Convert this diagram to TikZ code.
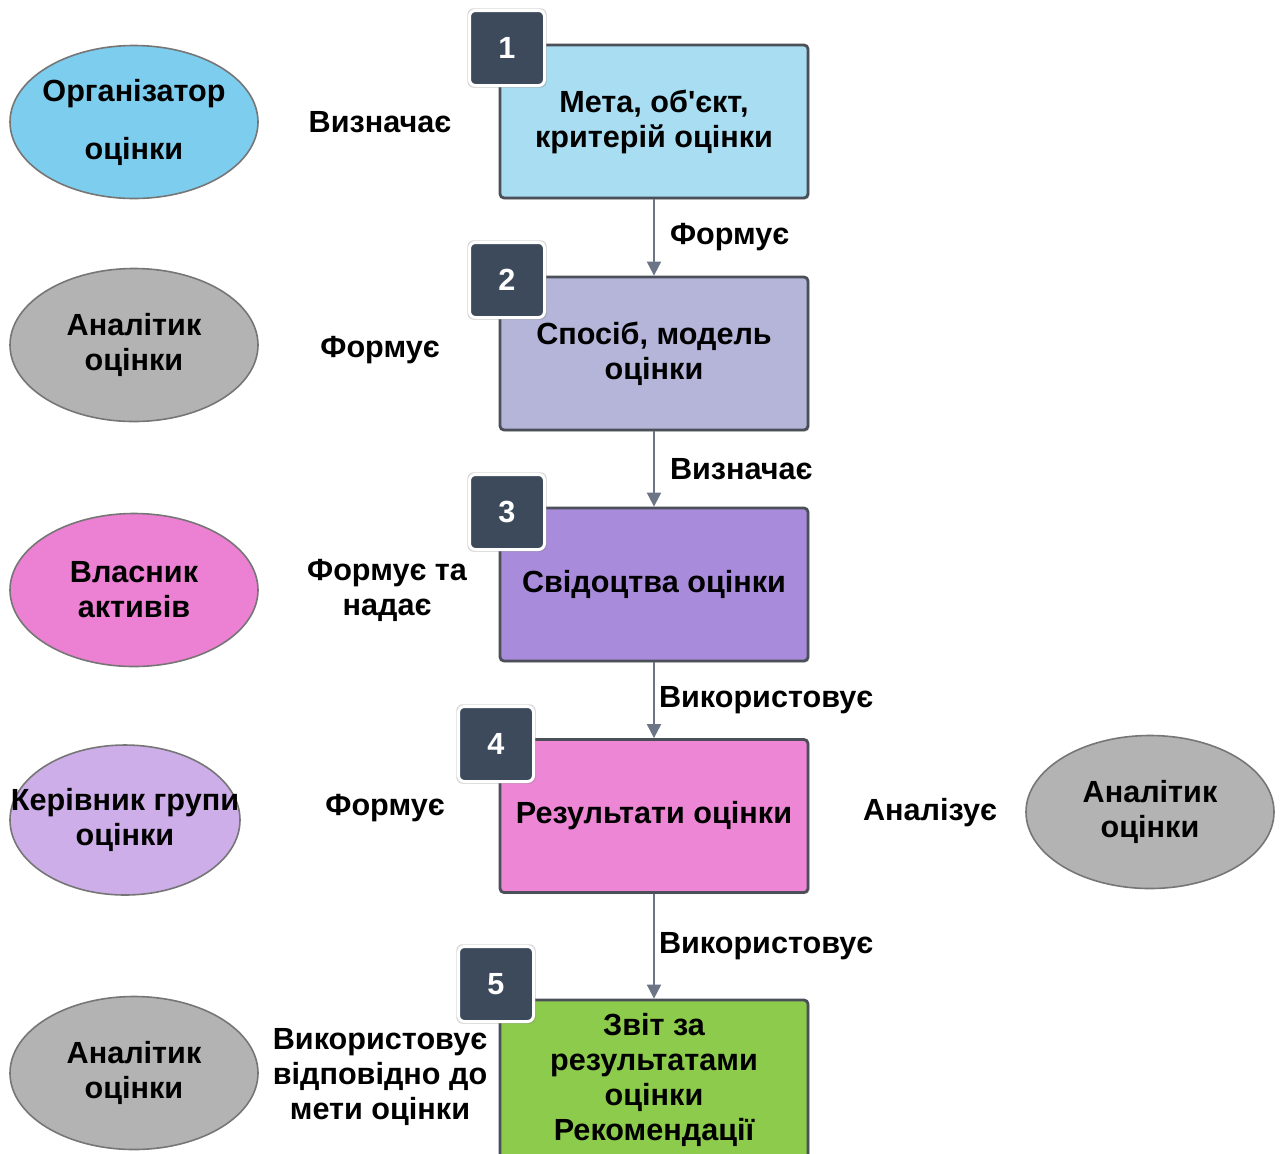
\documentclass[tikz,border=0pt]{standalone}
\usepackage{fontspec}
\setmainfont{Liberation Sans}[Ligatures=TeXOff]
\usetikzlibrary{shapes.geometric,arrows.meta,shadows}
\definecolor{goal}{HTML}{A8DDF2}
\definecolor{method}{HTML}{B4B5D8}
\definecolor{evidence}{HTML}{A98BDC}
\definecolor{result}{HTML}{EE86D6}
\definecolor{report}{HTML}{8CCB4C}
\definecolor{organiser}{HTML}{7DCDEE}
\definecolor{analyst}{HTML}{B3B3B3}
\definecolor{owner}{HTML}{EC80D2}
\definecolor{leader}{HTML}{CDAEE8}
\definecolor{badgefill}{HTML}{3C4A5C}
\definecolor{frame}{HTML}{4A4F58}
\definecolor{rim}{HTML}{767676}
\definecolor{flowgrey}{HTML}{6C7585}

\begin{document}
\begin{tikzpicture}[x=0.5pt, y=-0.5pt,
  font=\bfseries\fontsize{15.3}{17.5}\selectfont,
  stage/.style={draw=frame, line width=1.4pt, rounded corners=2pt, minimum width=154pt, minimum height=76.5pt, align=center, inner sep=0pt, drop shadow={opacity=0.25, shadow xshift=0.8pt, shadow yshift=-0.8pt}},
  badge/.style={draw=white, line width=1.5pt, fill=badgefill, rounded corners=3pt, minimum size=37.5pt, inner sep=0pt, text=white, drop shadow={opacity=0.3, shadow xshift=0pt, shadow yshift=0pt, shadow scale=1.06}},
  role/.style={ellipse, draw=rim, line width=0.8pt, minimum width=124pt, minimum height=76.5pt, align=center, inner sep=0pt},
  verb/.style={align=center, inner sep=0pt},
  flow/.style={draw=flowgrey, line width=1pt, -{Triangle[width=7pt, length=7pt]}}]
\useasboundingbox (0, 0) rectangle (1280, 1153);

\node [stage, fill=goal] (s1) at (654, 121.5) {Мета, об'єкт,\\критерій оцінки};
\node [stage, fill=method] (s2) at (654, 353.5) {Спосіб, модель\\оцінки};
\node [stage, fill=evidence] (s3) at (654, 584.5) {Свідоцтва оцінки};
\node [stage, fill=result] (s4) at (654, 816) {Результати оцінки};
\node [stage, fill=report, minimum height=80pt] (s5) at (654, 1080) {Звіт за\\результатами\\оцінки\\Рекомендації};

\node [badge] (n1) at (507, 48) {1};
\node [badge] (n2) at (507, 280) {2};
\node [badge] (n3) at (507, 512) {3};
\node [badge] (n4) at (496, 744) {4};
\node [badge] (n5) at (496, 984) {5};

\draw [flow] (s1) -- node [right, verb, xshift=7.5pt] {Формує} (s2);
\draw [flow] (s2) -- node [right, verb, xshift=7.5pt] {Визначає} (s3);
\draw [flow] (s3) -- node [right, verb, xshift=2pt] {Використовує} (s4);
\draw [flow] (s4) -- node [right, verb, xshift=2pt] {Використовує} (s5);

\node [role, fill=organiser] (r1) at (134, 122) {};
\node [verb] (r1t) at (134, 122) {Організатор\\[11.5pt]оцінки};
\node [role, fill=analyst] (r2) at (134, 345) {Аналітик\\оцінки};
\node [role, fill=owner] (r3) at (134, 590) {Власник\\активів};
\node [role, fill=leader, minimum width=115pt, minimum height=75pt] (r4) at (125, 820) {};
\node [verb] (r4t) at (125, 820) {Керівник групи\\оцінки};
\node [role, fill=analyst] (r5) at (134, 1073) {Аналітик\\оцінки};
\node [role, fill=analyst] (r6) at (1150, 812) {Аналітик\\оцінки};

\node [verb] (v1) at (380, 122) {Визначає};
\node [verb] (v2) at (380, 350) {Формує};
\node [verb] (v3) at (387, 590) {Формує та\\надає};
\node [verb] (v4) at (385, 808) {Формує};
\node [verb] (v5) at (380, 1077) {Використовує\\відповідно до\\мети оцінки};
\node [verb] (v6) at (930, 813) {Аналізує};
\end{tikzpicture}
\end{document}
